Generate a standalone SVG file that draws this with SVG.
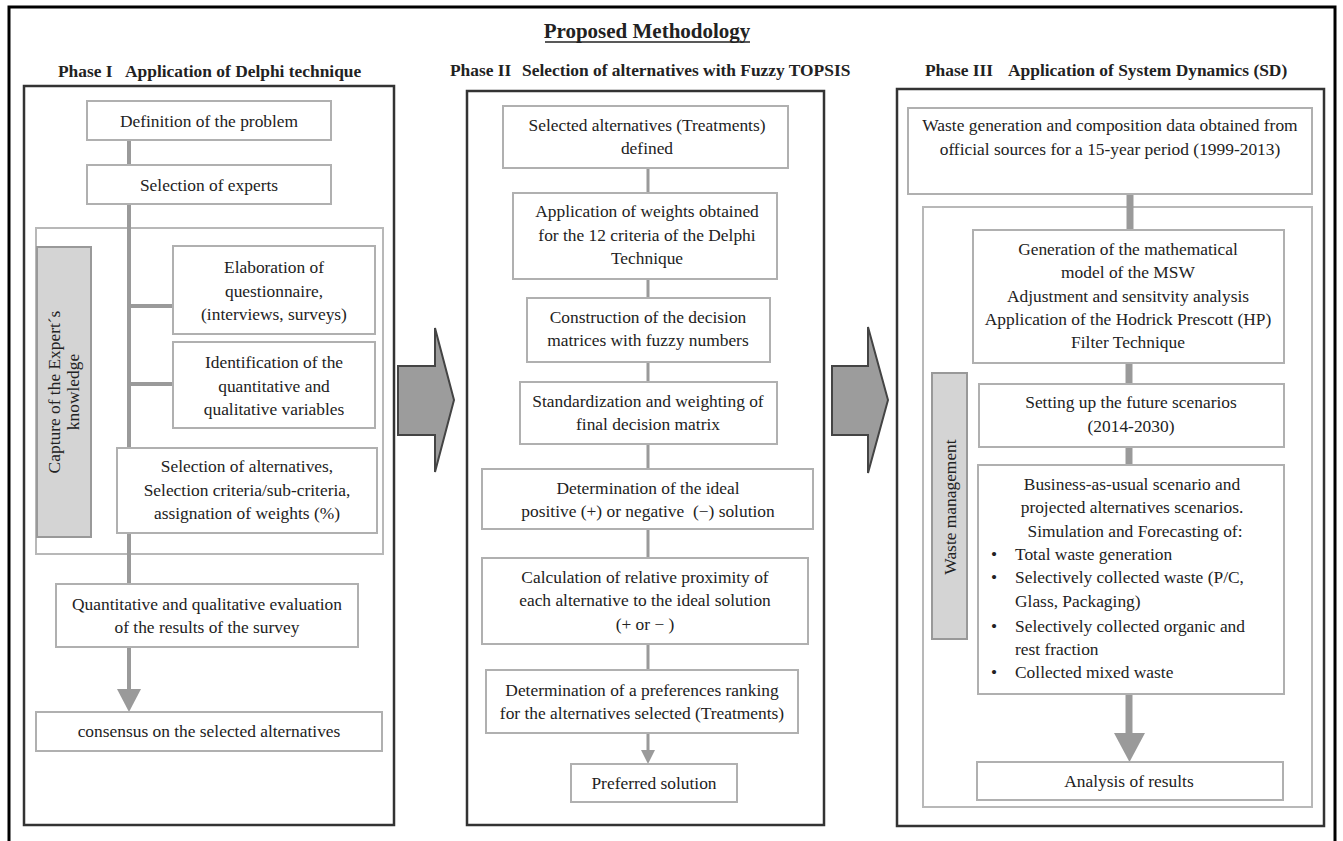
<svg xmlns="http://www.w3.org/2000/svg" width="1343" height="841" viewBox="0 0 1343 841">
<style>
.frame{fill:none;stroke:#000;stroke-width:3}
.phase{fill:none;stroke:#333;stroke-width:2.5}
.box{fill:#fff;stroke:#b0b0b0;stroke-width:2}
.group{fill:none;stroke:#b8b8b8;stroke-width:2}
.side{fill:#d4d4d4;stroke:#999;stroke-width:2}
.t{font-family:"Liberation Serif","Times New Roman",serif;font-size:17.4px;fill:#222;text-anchor:middle}
.l{text-anchor:start}
.b{font-weight:bold}
.ttl{font-size:21px;font-weight:bold}
.c1{stroke:#9a9a9a;stroke-width:4;fill:none}
.c2{stroke:#9a9a9a;stroke-width:3;fill:none}
.c3{stroke:#9a9a9a;stroke-width:7;fill:none}
.head{fill:#9a9a9a;stroke:none}
.big{fill:#9c9c9c;stroke:#444;stroke-width:2}
</style>
<rect width="1343" height="841" fill="#fff"/>
<rect class="frame" x="9" y="7" width="1326" height="850"/>

<g id="title">
<text class="t ttl" x="647" y="38">Proposed Methodology</text>
<line x1="545" y1="42" x2="750" y2="42" stroke="#222" stroke-width="1.5"/>
</g>

<g id="phase-headers">
<text class="t l b" x="58" y="77">Phase I</text>
<text class="t l b" x="125" y="77">Application of Delphi technique</text>
<text class="t l b" x="450" y="76">Phase II</text>
<text class="t l b" x="522" y="76">Selection of alternatives with Fuzzy TOPSIS</text>
<text class="t l b" x="925" y="76">Phase III</text>
<text class="t l b" x="1008" y="76">Application of System Dynamics (SD)</text>
</g>

<g id="phase-frames">
<rect class="phase" x="24" y="86" width="370" height="739"/>
<rect class="phase" x="467" y="91" width="357" height="734"/>
<rect class="phase" x="897" y="89" width="427" height="737"/>
</g>

<g id="group-boxes">
<rect class="group" x="36" y="228" width="347" height="326"/>
<rect class="group" x="923" y="207" width="389" height="600"/>
</g>

<g id="connectors">
<line class="c1" x1="129" y1="140" x2="129" y2="691"/>
<line class="c1" x1="129" y1="306" x2="173" y2="306"/>
<line class="c1" x1="129" y1="384" x2="173" y2="384"/>
<polygon class="head" points="117,689 141,689 129,712"/>
<line class="c2" x1="648" y1="168" x2="648" y2="752"/>
<polygon class="head" points="641,750 655,750 648,764"/>
<line class="c3" x1="1130" y1="194" x2="1130" y2="232"/>
<line class="c3" x1="1129" y1="363" x2="1129" y2="385"/>
<line class="c3" x1="1129" y1="447" x2="1129" y2="466"/>
<line class="c3" x1="1129" y1="694" x2="1129" y2="735"/>
<polygon class="head" points="1114,733 1145,733 1129.5,762"/>
</g>

<g id="phase-arrows">
<polygon class="big" points="398,366 435,366 435,328 454,400 435,472 435,435 398,435"/>
<polygon class="big" points="832,366 868,366 868,327 888,400 868,473 868,435 832,435"/>
</g>

<g id="n-definition">
<rect class="box" x="87" y="101" width="244" height="39"/>
<text class="t" x="209" y="127">Definition of the problem</text>
</g>
<g id="n-experts">
<rect class="box" x="87" y="165" width="244" height="39"/>
<text class="t" x="209" y="191">Selection of experts</text>
</g>
<g id="n-capture">
<rect class="side" x="37" y="247" width="54" height="290"/>
<text class="t" transform="rotate(-90)" x="-392" y="60">Capture of the Expert´s</text>
<text class="t" transform="rotate(-90)" x="-392" y="79">knowledge</text>
</g>
<g id="n-elaboration">
<rect class="box" x="173" y="246" width="202" height="88"/>
<text class="t" x="274" y="273">Elaboration of</text>
<text class="t" x="274" y="297">questionnaire,</text>
<text class="t" x="274" y="320">(interviews, surveys)</text>
</g>
<g id="n-identification">
<rect class="box" x="173" y="342" width="202" height="86"/>
<text class="t" x="274" y="368">Identification of the</text>
<text class="t" x="274" y="392">quantitative and</text>
<text class="t" x="274" y="415">qualitative variables</text>
</g>
<g id="n-selection">
<rect class="box" x="117" y="448" width="260" height="85"/>
<text class="t" x="247" y="472">Selection of alternatives,</text>
<text class="t" x="247" y="496">Selection criteria/sub-criteria,</text>
<text class="t" x="247" y="519">assignation of weights (%)</text>
</g>
<g id="n-quantitative">
<rect class="box" x="56" y="584" width="302" height="63"/>
<text class="t" x="207" y="610">Quantitative and qualitative evaluation</text>
<text class="t" x="207" y="633">of the results of the survey</text>
</g>
<g id="n-consensus">
<rect class="box" x="36" y="712" width="346" height="39"/>
<text class="t" x="209" y="737">consensus on the selected alternatives</text>
</g>

<g id="n-selected">
<rect class="box" x="503" y="106" width="285" height="62"/>
<text class="t" x="647" y="131">Selected alternatives (Treatments)</text>
<text class="t" x="647" y="154">defined</text>
</g>
<g id="n-weights">
<rect class="box" x="513" y="193" width="264" height="86"/>
<text class="t" x="647" y="217">Application of weights obtained</text>
<text class="t" x="647" y="241">for the 12 criteria of the Delphi</text>
<text class="t" x="647" y="264">Technique</text>
</g>
<g id="n-construction">
<rect class="box" x="527" y="298" width="243" height="64"/>
<text class="t" x="648" y="323">Construction of the decision</text>
<text class="t" x="648" y="346">matrices with fuzzy numbers</text>
</g>
<g id="n-standardization">
<rect class="box" x="520" y="382" width="257" height="62"/>
<text class="t" x="648" y="407">Standardization and weighting of</text>
<text class="t" x="648" y="430">final decision matrix</text>
</g>
<g id="n-ideal">
<rect class="box" x="482" y="469" width="331" height="60"/>
<text class="t" x="648" y="494">Determination of the ideal</text>
<text class="t" x="648" y="517" xml:space="preserve">positive (+) or negative  (−) solution</text>
</g>
<g id="n-calculation">
<rect class="box" x="482" y="558" width="326" height="86"/>
<text class="t" x="645" y="583">Calculation of relative proximity of</text>
<text class="t" x="645" y="606">each alternative to the ideal solution</text>
<text class="t" x="645" y="630">(+ or − )</text>
</g>
<g id="n-ranking">
<rect class="box" x="486" y="670" width="312" height="63"/>
<text class="t" x="642" y="696">Determination of a preferences ranking</text>
<text class="t" x="642" y="719">for the alternatives selected (Treatments)</text>
</g>
<g id="n-preferred">
<rect class="box" x="571" y="764" width="166" height="38"/>
<text class="t" x="654" y="789">Preferred solution</text>
</g>

<g id="n-wastedata">
<rect class="box" x="908" y="108" width="404" height="86"/>
<text class="t" x="1110" y="131">Waste generation and composition data obtained from</text>
<text class="t" x="1110" y="155">official sources for a 15-year period (1999-2013)</text>
</g>
<g id="n-wastemgmt">
<rect class="side" x="932" y="373" width="35" height="266"/>
<text class="t" transform="rotate(-90)" x="-507" y="956">Waste management</text>
</g>
<g id="n-generation">
<rect class="box" x="973" y="230" width="311" height="133"/>
<text class="t" x="1128" y="255">Generation of the mathematical</text>
<text class="t" x="1128" y="278">model of the MSW</text>
<text class="t" x="1128" y="302">Adjustment and sensitvity analysis</text>
<text class="t" x="1128" y="325">Application of the Hodrick Prescott (HP)</text>
<text class="t" x="1128" y="348">Filter Technique</text>
</g>
<g id="n-setting">
<rect class="box" x="979" y="384" width="305" height="63"/>
<text class="t" x="1131" y="408">Setting up the future scenarios</text>
<text class="t" x="1131" y="432">(2014-2030)</text>
</g>
<g id="n-business">
<rect class="box" x="978" y="465" width="306" height="229"/>
<text class="t" x="1132" y="490">Business-as-usual scenario and</text>
<text class="t" x="1132" y="513">projected alternatives scenarios.</text>
<text class="t" x="1135" y="537">Simulation and Forecasting of:</text>
<text class="t l" x="991" y="560">•</text>
<text class="t l" x="1015" y="560">Total waste generation</text>
<text class="t l" x="991" y="583">•</text>
<text class="t l" x="1015" y="583">Selectively collected waste (P/C,</text>
<text class="t l" x="1015" y="607">Glass, Packaging)</text>
<text class="t l" x="991" y="632">•</text>
<text class="t l" x="1015" y="632">Selectively collected organic and</text>
<text class="t l" x="1015" y="655">rest fraction</text>
<text class="t l" x="991" y="678">•</text>
<text class="t l" x="1015" y="678">Collected mixed waste</text>
</g>
<g id="n-analysis">
<rect class="box" x="977" y="762" width="306" height="38"/>
<text class="t" x="1129" y="787">Analysis of results</text>
</g>
</svg>
